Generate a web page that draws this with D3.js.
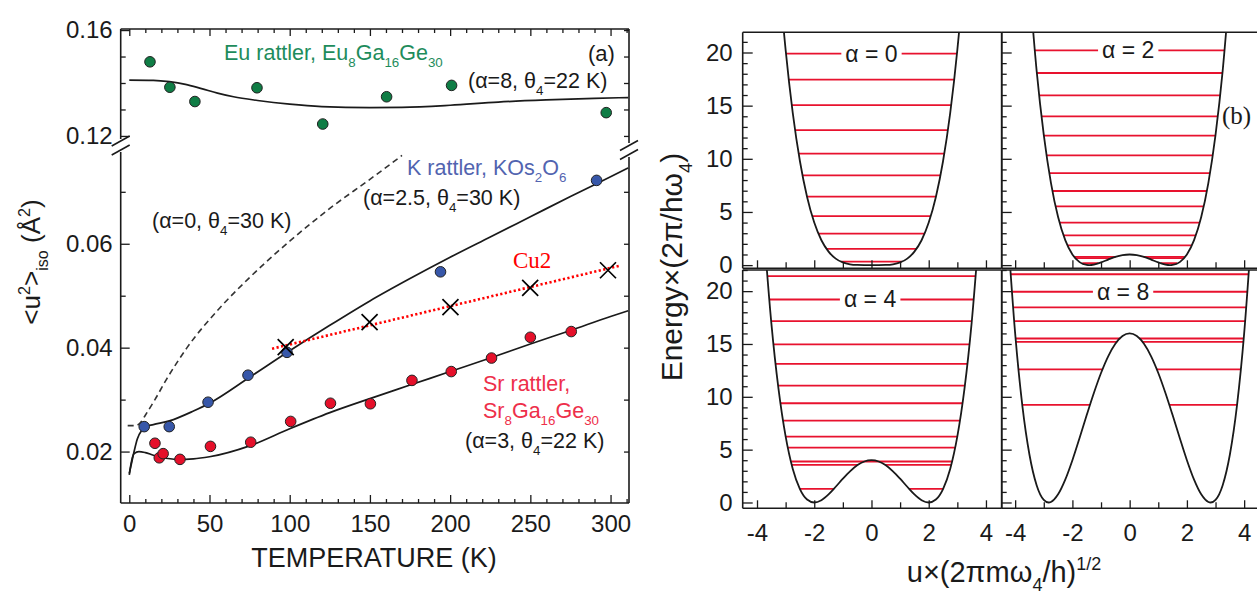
<!DOCTYPE html>
<html><head><meta charset="utf-8">
<script src="https://cdn.jsdelivr.net/npm/d3@7"></script>
<style>
html,body{margin:0;padding:0;background:#fff;}
svg{display:block;}
</style></head><body>
<svg id="chart" width="1257" height="594"></svg>
<script>
// ================= Panel (a) data =================
const temperatureTicks = [0, 50, 100, 150, 200, 250, 300];
const upperTickLabels = [0.12, 0.16];
const upperMinorTicks = [0.13, 0.14, 0.15];
const lowerTickLabels = [0.02, 0.04, 0.06];
const lowerMinorTicks = [0.03, 0.05, 0.07];

// Eu rattler (green)
const euT = [12.9, 25.3, 40.9, 79.6, 120.6, 160.4, 200.9, 297.3];
const euU = [0.1480, 0.1384, 0.1330, 0.1382, 0.1245, 0.1348, 0.1391, 0.1288];
const euFitT = [0, 15, 25, 35, 45, 55, 65, 80, 100, 120, 150, 170, 200, 230, 260, 290, 311];
const euFitU = [0.1411, 0.1410, 0.1405, 0.1395, 0.1379, 0.1362, 0.1348, 0.1334, 0.1320, 0.1311, 0.1307, 0.1308, 0.1316, 0.1328, 0.1336, 0.1342, 0.1345];

// K rattler (blue)
const kT = [9.3, 24.9, 49.1, 74.0, 98.3, 194.0, 291.3];
const kU = [0.0248, 0.0248, 0.0295, 0.0347, 0.0391, 0.0546, 0.0722];
const kFitT = [0, 1, 3, 5, 8, 10, 15, 25, 40, 50, 75, 100, 125, 150, 175, 200, 225, 250, 275, 300, 311];
const kFitU = [0.0158, 0.0172, 0.0200, 0.0224, 0.0242, 0.0248, 0.0252, 0.0259, 0.0278, 0.0293, 0.0343, 0.0394, 0.0443, 0.0490, 0.0533, 0.0574, 0.0613, 0.0652, 0.0691, 0.0729, 0.0746];

// Sr rattler (red)
const srT = [16.0, 18.7, 21.1, 31.6, 50.6, 75.7, 100.6, 125.4, 150.3, 176.2, 200.7, 225.8, 250.0, 275.5];
const srU = [0.0216, 0.0188, 0.0196, 0.0185, 0.0210, 0.0218, 0.0258, 0.0293, 0.0292, 0.0337, 0.0354, 0.0380, 0.0420, 0.0431];
const srFitT = [0, 1, 3, 6, 10, 15, 20, 30, 40, 50, 75, 100, 125, 150, 175, 200, 225, 250, 275, 300, 311];
const srFitU = [0.0155, 0.0175, 0.0196, 0.0200, 0.0198, 0.0193, 0.0189, 0.0185, 0.0186, 0.0190, 0.0211, 0.0244, 0.0275, 0.0302, 0.0328, 0.0354, 0.0380, 0.0407, 0.0433, 0.0460, 0.0471];

// alpha = 0 harmonic curve (dashed)
const harmT = [-1, 4, 7, 10, 16, 23, 36, 56, 74, 100, 125, 150, 170];
const harmU = [0.0250, 0.0250, 0.0256, 0.0270, 0.0300, 0.0338, 0.0400, 0.0475, 0.0532, 0.0605, 0.0668, 0.0724, 0.0770];

// Cu2 (crosses + dotted trend)
const cu2T = [97.5, 149.8, 200.2, 249.9, 298.4];
const cu2U = [0.0401, 0.0449, 0.0478, 0.0515, 0.0549];
const cu2LineT = [89, 306];
const cu2LineU = [0.0398, 0.0558];

// ================= Panel (b) data =================
const energyTickLabels = [0, 5, 10, 15, 20];
const uTickLabels = [-4, -2, 0, 2, 4];
// potential V(u) sampled for u >= 0 (even in u)
const potentialAlpha0 = [[0,0],[0.25,0.001],[0.5,0.016],[0.75,0.079],[1,0.25],[1.25,0.61],[1.5,1.27],[1.75,2.34],[2,4],[2.25,6.41],[2.5,9.77],[2.75,14.3],[3,20.25],[3.25,27.9],[3.5,37.5]];
const potentialAlpha2 = [[0,1],[0.25,0.94],[0.5,0.77],[0.75,0.52],[1,0.25],[1.25,0.048],[1.41,0],[1.5,0.016],[1.75,0.28],[2,1],[2.25,2.35],[2.5,4.52],[2.75,7.74],[3,12.25],[3.25,18.3],[3.5,26.3]];
const potentialAlpha4 = [[0,4],[0.25,3.88],[0.5,3.52],[0.75,2.95],[1,2.25],[1.25,1.49],[1.5,0.77],[1.75,0.22],[2,0],[2.25,0.28],[2.5,1.27],[2.75,3.17],[3,6.25],[3.25,10.77],[3.5,17.0],[3.75,25.3]];
const potentialAlpha8 = [[0,16],[0.25,15.75],[0.5,15.02],[0.75,13.83],[1,12.25],[1.25,10.36],[1.5,8.27],[1.75,6.1],[2,4],[2.25,2.16],[2.5,0.77],[2.75,0.05],[2.83,0],[3,0.25],[3.25,1.64],[3.5,4.52],[3.75,9.19],[4,16],[4.25,25.3]];
const levelsAlpha0 = [0.33, 1.52, 2.96, 4.6, 6.45, 8.45, 10.48, 12.7, 15.05, 17.45, 19.9];
const levelsAlpha2 = [0.18, 0.66, 0.78, 1.85, 2.8, 4.0, 5.53, 6.97, 8.66, 10.33, 12.18, 14.0, 15.97, 18.07, 20.2];
const levelsAlpha4 = [1.29, 3.56, 3.88, 5.2, 6.24, 7.75, 9.39, 11.05, 13.11, 14.96, 17.16, 19.21, 21.42];
const levelsAlpha8 = [9.24, 12.6, 15.2, 15.52, 17.16, 18.46, 19.94, 21.6];
const alphaNames = ["α = 0", "α = 2", "α = 4", "α = 8"];

// ================= drawing =================
const FONT = "'Liberation Sans', Arial, Helvetica, sans-serif";
const SERIF = "'Liberation Serif', 'Times New Roman', serif";
const INK = "#1a1a1a";
const svg = d3.select("#chart");

function rich(parent, x, y, parts, size, fill, family) {
  const t = parent.append("text").attr("x", x).attr("y", y)
    .attr("font-size", size).attr("fill", fill).attr("font-family", family || FONT);
  let shift = 0;
  parts.forEach(p => {
    const [s, kind] = typeof p === "string" ? [p, ""] : p;
    const target = kind === "sub" ? size * 0.32 : kind === "sup" ? -size * 0.4 : 0;
    const ts = t.append("tspan").text(s).attr("dy", target - shift);
    if (kind) ts.attr("font-size", size * 0.62);
    shift = target;
  });
  return t;
}

function styleAxis(g, fs) {
  g.select(".domain").remove();
  g.selectAll(".tick line").attr("stroke", INK).attr("stroke-width", 1.3);
  g.selectAll(".tick text").attr("font-family", FONT).attr("font-size", fs).attr("fill", INK);
  return g;
}
function addAxis(axis, tx, ty, fs) {
  return styleAxis(svg.append("g").attr("transform", `translate(${tx},${ty})`).call(axis), fs || 24);
}
function line(x1, y1, x2, y2, w) {
  svg.append("line").attr("x1", x1).attr("y1", y1).attr("x2", x2).attr("y2", y2)
    .attr("stroke", INK).attr("stroke-width", w || 1.6);
}

// ---------- Panel (a) ----------
const xA = d3.scaleLinear().domain([-5.35, 311.5]).range([120.7, 629]);
const yLo = d3.scaleLinear().domain([0.0101, 0.0767]).range([503, 157]);
const yHi = d3.scaleLinear().domain([0.1196, 0.1604]).range([137, 29]);
const L = 120.7, R = 629, T = 29, B = 503;

const minorT = d3.range(10, 311, 10).filter(v => v % 50 !== 0);
addAxis(d3.axisBottom(xA).tickValues(temperatureTicks).tickSizeInner(-8).tickSizeOuter(0).tickPadding(12).tickFormat(d3.format("d")), 0, B);
addAxis(d3.axisBottom(xA).tickValues(minorT).tickSizeInner(-4).tickSizeOuter(0).tickFormat(""), 0, B);
addAxis(d3.axisTop(xA).tickValues(temperatureTicks).tickSizeInner(-7).tickSizeOuter(0).tickFormat(""), 0, T);
addAxis(d3.axisTop(xA).tickValues(minorT).tickSizeInner(-4).tickSizeOuter(0).tickFormat(""), 0, T);
addAxis(d3.axisLeft(yHi).tickValues(upperTickLabels).tickSizeInner(-9).tickSizeOuter(0).tickPadding(8).tickFormat(d3.format(".2f")), L, 0);
addAxis(d3.axisLeft(yHi).tickValues(upperMinorTicks).tickSizeInner(-5).tickSizeOuter(0).tickFormat(""), L, 0);
addAxis(d3.axisLeft(yLo).tickValues(lowerTickLabels).tickSizeInner(-9).tickSizeOuter(0).tickPadding(8).tickFormat(d3.format(".2f")), L, 0);
addAxis(d3.axisLeft(yLo).tickValues(lowerMinorTicks).tickSizeInner(-5).tickSizeOuter(0).tickFormat(""), L, 0);
addAxis(d3.axisRight(yHi).tickValues(upperTickLabels.concat(upperMinorTicks)).tickSizeInner(-5).tickSizeOuter(0).tickFormat(""), R, 0);
addAxis(d3.axisRight(yLo).tickValues(lowerTickLabels.concat(lowerMinorTicks)).tickSizeInner(-5).tickSizeOuter(0).tickFormat(""), R, 0);

// frame with axis breaks
line(L, T, R, T); line(L, B, R, B);
line(L, T, L, 139); line(L, 152, L, B);
line(R, T, R, 143); line(R, 157, R, B);
[[L, 141], [L, 150], [R, 145.5], [R, 154.5]].forEach(([cx, cy]) => line(cx - 9, cy + 5, cx + 9, cy - 5, 1.6));

const lineLo = d3.line().x(d => xA(d[0])).y(d => yLo(d[1])).curve(d3.curveMonotoneX);
const lineHi = d3.line().x(d => xA(d[0])).y(d => yHi(d[1])).curve(d3.curveMonotoneX);
const zip = (a, b) => a.map((v, i) => [v, b[i]]);

svg.append("path").attr("d", lineLo(zip(harmT, harmU))).attr("fill", "none")
  .attr("stroke", "#333").attr("stroke-width", 1.6).attr("stroke-dasharray", "6,4");
svg.append("path").attr("d", lineHi(zip(euFitT, euFitU))).attr("fill", "none").attr("stroke", INK).attr("stroke-width", 1.7);
svg.append("path").attr("d", lineLo(zip(kFitT, kFitU))).attr("fill", "none").attr("stroke", INK).attr("stroke-width", 1.7);
svg.append("path").attr("d", lineLo(zip(srFitT, srFitU))).attr("fill", "none").attr("stroke", INK).attr("stroke-width", 1.7);
svg.append("path").attr("d", d3.line().x(d => xA(d[0])).y(d => yLo(d[1]))(zip(cu2LineT, cu2LineU)))
  .attr("fill", "none").attr("stroke", "#ff0000").attr("stroke-width", 2.6).attr("stroke-dasharray", "2.2,2.4");

function dots(ts, us, scale, fill) {
  svg.append("g").selectAll("circle").data(zip(ts, us)).join("circle")
    .attr("cx", d => xA(d[0])).attr("cy", d => scale(d[1])).attr("r", 5.3)
    .attr("fill", fill).attr("stroke", "#222").attr("stroke-width", 1);
}
dots(euT, euU, yHi, "#0f7d45");
dots(kT, kU, yLo, "#3757a9");
dots(srT, srU, yLo, "#e5102a");

svg.append("g").selectAll("path").data(zip(cu2T, cu2U)).join("path")
  .attr("d", d => { const cx = xA(d[0]), cy = yLo(d[1]), s = 8;
    return `M${cx - s},${cy - s}L${cx + s},${cy + s}M${cx - s},${cy + s}L${cx + s},${cy - s}`; })
  .attr("stroke", "#000").attr("stroke-width", 1.7);

// annotations
rich(svg, 224, 60, ["Eu rattler, Eu", ["8", "sub"], "Ga", ["16", "sub"], "Ge", ["30", "sub"]], 21.5, "#1e8c5c");
rich(svg, 588, 61, ["(a)"], 22, INK);
rich(svg, 468, 88, ["(α=8, θ", ["4", "sub"], "=22 K)"], 21.5, INK);
rich(svg, 407, 175, ["K rattler, KOs", ["2", "sub"], "O", ["6", "sub"]], 21.5, "#5264b0");
rich(svg, 363, 205, ["(α=2.5, θ", ["4", "sub"], "=30 K)"], 21.5, INK);
rich(svg, 152, 228, ["(α=0, θ", ["4", "sub"], "=30 K)"], 21.5, INK);
rich(svg, 513, 268, ["Cu2"], 23, "#ff0000", SERIF);
rich(svg, 483, 391, ["Sr rattler,"], 21.5, "#ee2f4a");
rich(svg, 483, 418, ["Sr", ["8", "sub"], "Ga", ["16", "sub"], "Ge", ["30", "sub"]], 21.5, "#ee2f4a");
rich(svg, 465, 448, ["(α=3, θ", ["4", "sub"], "=22 K)"], 21.5, INK);

rich(svg, 374, 567, ["TEMPERATURE (K)"], 27, INK).attr("text-anchor", "middle");
const ylabA = svg.append("g").attr("transform", "translate(40,262) rotate(-90)");
rich(ylabA, 0, 0, ["<u", ["2", "sup"], ">", ["iso", "sub"], " (Å", ["2", "sup"], ")"], 26, INK).attr("text-anchor", "middle");

// ---------- Panel (b) ----------
const colX = [d3.scaleLinear().domain([-4.5, 4.55]).range([742.7, 1001.7]),
              d3.scaleLinear().domain([-4.47, 4.55]).range([1001.7, 1259.9])];
const rowY = [d3.scaleLinear().domain([-0.3, 21.9]).range([268.3, 32.3]),
              d3.scaleLinear().domain([-0.55, 22]).range([508.3, 270])];
const potentials = [potentialAlpha0, potentialAlpha2, potentialAlpha4, potentialAlpha8];
const levelSets = [levelsAlpha0, levelsAlpha2, levelsAlpha4, levelsAlpha8];
const labelLevel = [19.9, 20.2, 19.21, 19.94];
const labelU = [0, -0.05, -0.05, -0.23];
const full = half => half.slice(1).reverse().map(([u, v]) => [-u, v]).concat(half);

function levelSegments(curve, E) {
  const segs = []; let start = null;
  for (let i = 0; i < curve.length - 1; i++) {
    const [u0, v0] = curve[i], [u1, v1] = curve[i + 1];
    if ((v0 - E) * (v1 - E) < 0) {
      const uc = u0 + (E - v0) * (u1 - u0) / (v1 - v0);
      if (v0 > E) start = uc; else if (start !== null) { segs.push([start, uc]); start = null; }
    }
  }
  return segs;
}

const ints = d3.range(-4, 5);
potentials.forEach((pot, k) => {
  const col = k % 2, row = Math.floor(k / 2);
  const xs = colX[col], ys = rowY[row];
  const [x0, x1] = xs.range(), [y0, y1] = ys.range();
  const id = "clip" + k;
  svg.append("clipPath").attr("id", id).append("rect")
    .attr("x", x0).attr("y", y1).attr("width", x1 - x0).attr("height", y0 - y1);
  const g = svg.append("g").attr("clip-path", `url(#${id})`);
  const curve = full(pot);
  levelSets[k].forEach(E => {
    levelSegments(curve, E).forEach(([a, b]) => {
      g.append("line").attr("x1", xs(a)).attr("x2", xs(b)).attr("y1", ys(E)).attr("y2", ys(E))
        .attr("stroke", "#e8122e").attr("stroke-width", 1.8);
    });
  });
  g.append("path").attr("d", d3.line().x(d => xs(d[0])).y(d => ys(d[1])).curve(d3.curveMonotoneX)(curve))
    .attr("fill", "none").attr("stroke", INK).attr("stroke-width", 1.8);
  // label with white background
  const lab = rich(g, xs(labelU[k]), ys(labelLevel[k]) + 8, [alphaNames[k]], 23, INK).attr("text-anchor", "middle");
  const bb = lab.node().getBBox();
  g.insert("rect", "text").attr("x", bb.x - 4).attr("y", bb.y).attr("width", bb.width + 8).attr("height", bb.height).attr("fill", "#fff");

  // axes
  const even = ints.filter(v => v % 2 === 0), odd = ints.filter(v => v % 2 !== 0);
  const fmt = d => String(d);
  if (row === 1) {
    addAxis(d3.axisBottom(xs).tickValues(uTickLabels).tickSizeInner(-8).tickSizeOuter(0).tickPadding(16).tickFormat(fmt), 0, y0);
  } else {
    addAxis(d3.axisBottom(xs).tickValues(even).tickSizeInner(-8).tickSizeOuter(0).tickFormat(""), 0, y0);
  }
  addAxis(d3.axisBottom(xs).tickValues(odd).tickSizeInner(-6).tickSizeOuter(0).tickFormat(""), 0, y0);
  const maxE = Math.floor(ys.domain()[1]);
  const minorE = d3.range(0, maxE + 1).filter(v => v % 5 !== 0);
  addAxis(d3.axisLeft(ys).tickValues(energyTickLabels).tickSizeInner(-10).tickSizeOuter(0).tickPadding(10)
    .tickFormat(col === 0 ? fmt : ""), x0, 0);
  addAxis(d3.axisLeft(ys).tickValues(minorE).tickSizeInner(-5).tickSizeOuter(0).tickFormat(""), x0, 0);
  // frame
  line(x0, y1, x1, y1); line(x0, y0, x1, y0); line(x0, y1, x0, y0); line(x1, y1, x1, y0);
});

rich(svg, 1222, 124, ["(b)"], 25, INK, SERIF);
rich(svg, 1004, 582, ["u×(2πmω", ["4", "sub"], "/h)", ["1/2", "sup"]], 29, INK).attr("text-anchor", "middle");
const ylabB = svg.append("g").attr("transform", "translate(682,267) rotate(-90)");
rich(ylabB, 0, 0, ["Energy×(2π/hω", ["4", "sub"], ")"], 30, INK).attr("text-anchor", "middle");
</script>
</body></html>
